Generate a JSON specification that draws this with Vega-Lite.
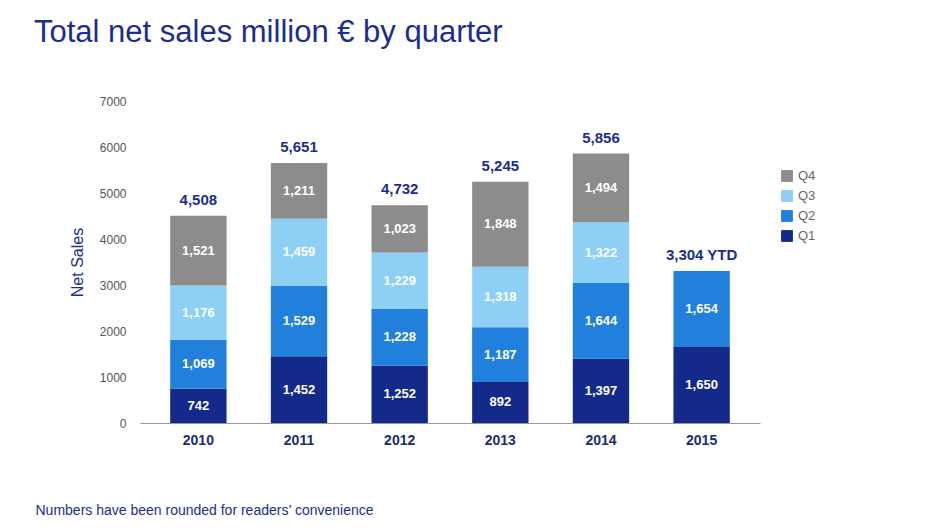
{
  "$schema": "https://vega.github.io/schema/vega-lite/v6.json",
  "width": 620,
  "height": 322,
  "autosize": "none",
  "padding": {"left": 140, "top": 101, "right": 180, "bottom": 105},
  "background": "white",
  "title": {
    "text": "Total net sales million € by quarter",
    "anchor": "start",
    "frame": "group",
    "dx": -106,
    "offset": 46,
    "fontSize": 31,
    "fontWeight": "normal",
    "color": "#1a2e8f",
    "font": "Liberation Sans"
  },
  "datasets": {
    "sales": [
      {"year": "2010", "q": "Q1", "qi": 1, "value": 742},
      {"year": "2010", "q": "Q2", "qi": 2, "value": 1069},
      {"year": "2010", "q": "Q3", "qi": 3, "value": 1176},
      {"year": "2010", "q": "Q4", "qi": 4, "value": 1521},
      {"year": "2011", "q": "Q1", "qi": 1, "value": 1452},
      {"year": "2011", "q": "Q2", "qi": 2, "value": 1529},
      {"year": "2011", "q": "Q3", "qi": 3, "value": 1459},
      {"year": "2011", "q": "Q4", "qi": 4, "value": 1211},
      {"year": "2012", "q": "Q1", "qi": 1, "value": 1252},
      {"year": "2012", "q": "Q2", "qi": 2, "value": 1228},
      {"year": "2012", "q": "Q3", "qi": 3, "value": 1229},
      {"year": "2012", "q": "Q4", "qi": 4, "value": 1023},
      {"year": "2013", "q": "Q1", "qi": 1, "value": 892},
      {"year": "2013", "q": "Q2", "qi": 2, "value": 1187},
      {"year": "2013", "q": "Q3", "qi": 3, "value": 1318},
      {"year": "2013", "q": "Q4", "qi": 4, "value": 1848},
      {"year": "2014", "q": "Q1", "qi": 1, "value": 1397},
      {"year": "2014", "q": "Q2", "qi": 2, "value": 1644},
      {"year": "2014", "q": "Q3", "qi": 3, "value": 1322},
      {"year": "2014", "q": "Q4", "qi": 4, "value": 1494},
      {"year": "2015", "q": "Q1", "qi": 1, "value": 1650},
      {"year": "2015", "q": "Q2", "qi": 2, "value": 1654}
    ],
    "totals": [
      {"year": "2010", "total": 4508, "label": "4,508"},
      {"year": "2011", "total": 5651, "label": "5,651"},
      {"year": "2012", "total": 4732, "label": "4,732"},
      {"year": "2013", "total": 5245, "label": "5,245"},
      {"year": "2014", "total": 5856, "label": "5,856"},
      {"year": "2015", "total": 3304, "label": "3,304 YTD"}
    ]
  },
  "data": {"name": "sales"},
  "transform": [
    {"stack": "value", "groupby": ["year"], "sort": [{"field": "qi", "order": "ascending"}], "as": ["y0", "y1"]},
    {"calculate": "(datum.y0 + datum.y1) / 2", "as": "ymid"},
    {"calculate": "format(datum.value, ',')", "as": "vlabel"}
  ],
  "encoding": {
    "x": {
      "field": "year",
      "type": "nominal",
      "scale": {"paddingInner": 0.44, "paddingOuter": 0.3},
      "axis": {
        "labelAngle": 0,
        "labelFontWeight": "bold",
        "labelFontSize": 14,
        "labelColor": "#1a2e6f",
        "labelPadding": 10,
        "ticks": false,
        "domainColor": "#999999",
        "title": "Numbers have been rounded for readers’ convenience",
        "titleFontWeight": "normal",
        "titleFontSize": 14,
        "titleColor": "#1a2e8f",
        "titleAnchor": "start",
        "titleAlign": "left",
        "titleX": -105,
        "titleY": 80
      }
    }
  },
  "layer": [
    {
      "mark": {"type": "bar"},
      "encoding": {
        "y": {
          "field": "y0",
          "type": "quantitative",
          "scale": {"domain": [0, 7000]},
          "axis": {
            "values": [0, 1000, 2000, 3000, 4000, 5000, 6000, 7000],
            "format": "d",
            "grid": false,
            "domain": false,
            "ticks": false,
            "labelFontSize": 12,
            "labelColor": "#555555",
            "labelPadding": 14,
            "title": "Net Sales",
            "titleFontSize": 16,
            "titleFontWeight": "normal",
            "titleColor": "#1a2e8f",
            "titlePadding": 14
          }
        },
        "y2": {"field": "y1"},
        "color": {
          "field": "q",
          "type": "nominal",
          "scale": {"domain": ["Q4", "Q3", "Q2", "Q1"], "range": ["#8c8c8c", "#8dcff5", "#2180db", "#142a8a"]},
          "legend": {
            "title": null,
            "orient": "none",
            "legendX": 640,
            "legendY": 68,
            "symbolType": "square",
            "symbolSize": 140,
            "labelFontSize": 13,
            "labelColor": "#666666",
            "rowPadding": 6
          }
        }
      }
    },
    {
      "mark": {"type": "text", "color": "white", "fontWeight": "bold", "fontSize": 13, "font": "Liberation Sans"},
      "encoding": {
        "y": {"field": "ymid", "type": "quantitative"},
        "text": {"field": "vlabel"}
      }
    },
    {
      "data": {"name": "totals"},
      "mark": {"type": "text", "color": "#1a2e8f", "fontWeight": "bold", "fontSize": 15, "baseline": "bottom", "dy": -8, "font": "Liberation Sans"},
      "encoding": {
        "x": {"field": "year", "type": "nominal"},
        "y": {"field": "total", "type": "quantitative"},
        "text": {"field": "label"}
      }
    }
  ],
  "config": {
    "font": "Liberation Sans",
    "view": {"stroke": null}
  }
}
